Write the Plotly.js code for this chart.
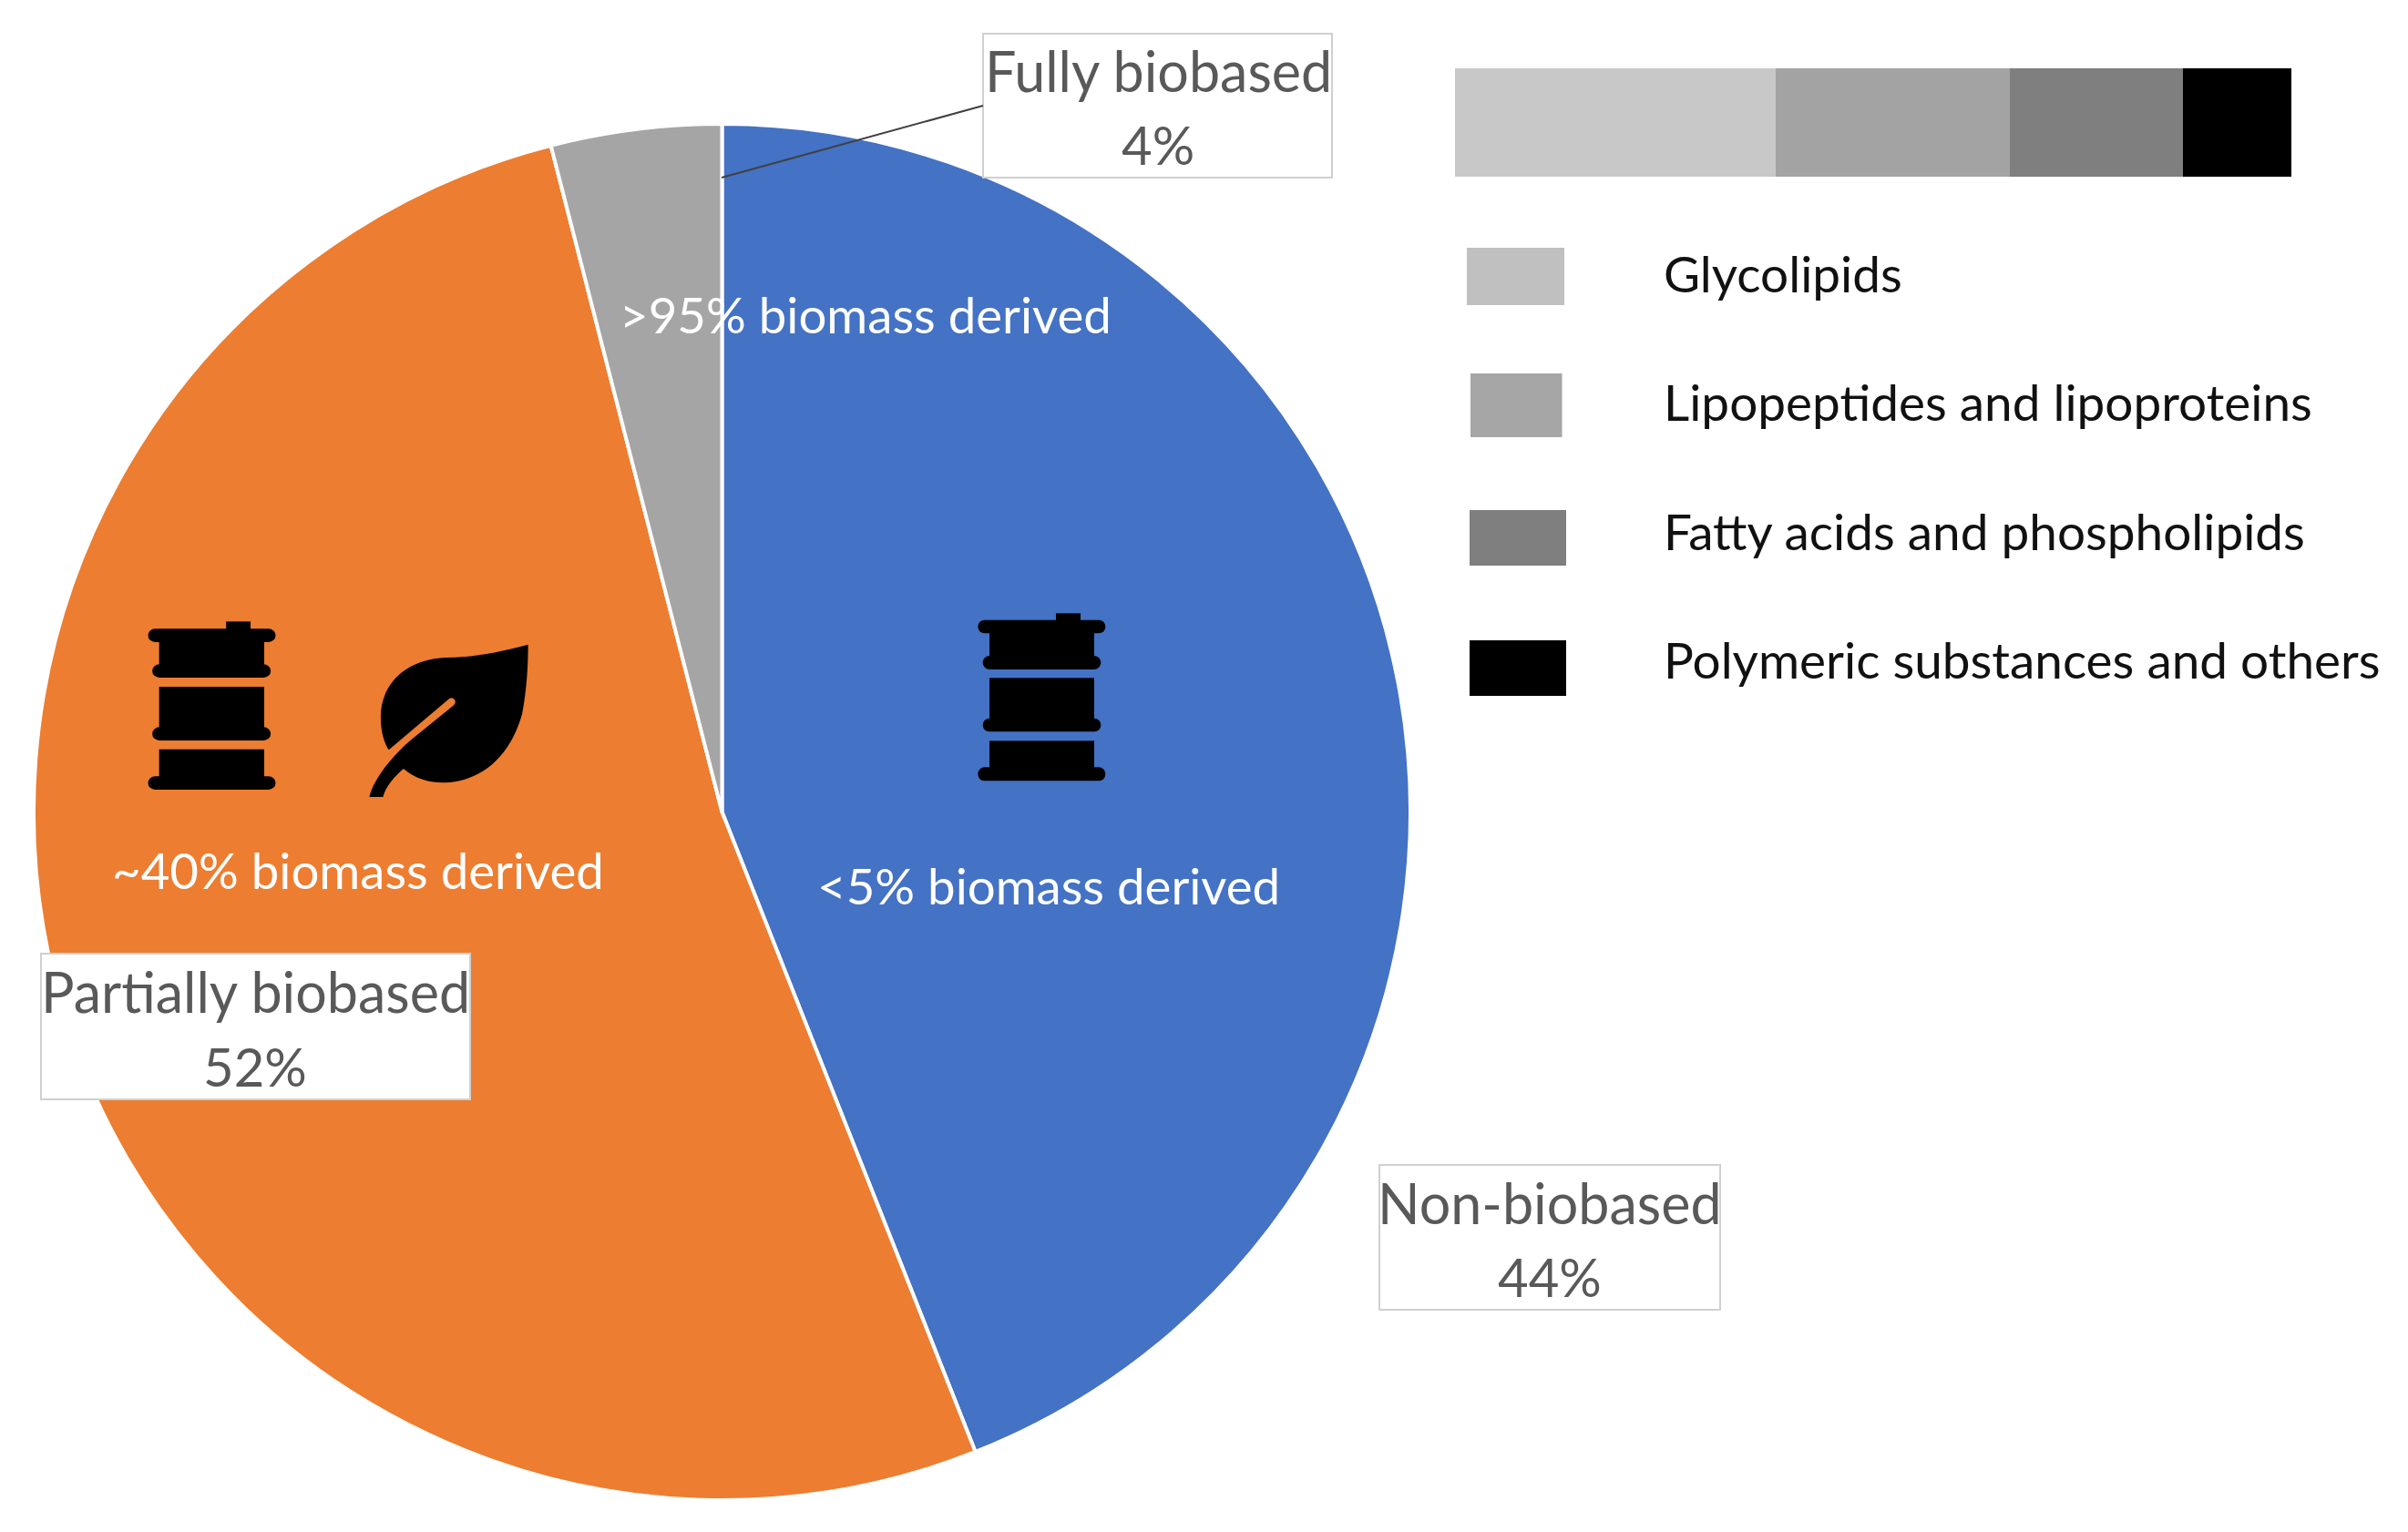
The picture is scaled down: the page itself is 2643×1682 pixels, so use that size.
<!DOCTYPE html>
<html><head><meta charset="utf-8">
<script src="https://cdn.plot.ly/plotly-3.0.1.min.js"></script>
<style>html,body{margin:0;padding:0;background:#fff}#c{width:2643px;height:1682px}</style>
</head><body><div id="c"></div>
<script>
// data
const pieLabels = ["Non-biobased", "Partially biobased", "Fully biobased"];
const pieValues = [44, 52, 4];
const pieColors = ["#4472C4", "#ED7D31", "#A5A5A5"];
const biomassNotes = ["<5% biomass derived", "~40% biomass derived", ">95% biomass derived"];
const legendLabels = ["Glycolipids", "Lipopeptides and lipoproteins", "Fatty acids and phospholipids", "Polymeric substances and others"];
const stackValues = [38.3, 28, 20.7, 13];
const stackColors = ["#C8C8C8", "#A3A3A3", "#7F7F7F", "#000000"];
const swatchColors = ["#C0C0C0", "#A6A6A6", "#7F7F7F", "#000000"];

const W = 2643, H = 1682;
const px = x => x / W, py = y => 1 - y / H;
const FONT = "Lato, 'Noto Sans', sans-serif";

const barrel = (b, t) => {
  const [capL, capR, bandL, bandR, bodyL, bodyR, bumpL, bumpR, y] = b;
  const rr = (x0, x1, y0, y1) => `<rect x="${x0}" y="${y0}" width="${x1-x0}" height="${y1-y0}" rx="${(y1-y0)/2}"/>`;
  const r = (x0, x1, y0, y1) => `<rect x="${x0}" y="${y0}" width="${x1-x0}" height="${y1-y0}"/>`;
  return r(bumpL,bumpR,y[0],y[1]+10) + rr(capL,capR,y[1],y[2]) + r(bodyL,bodyR,y[2]-5,y[3]+10) + rr(bandL,bandR,y[3],y[4]) +
    r(bodyL,bodyR,y[5],y[6]+10) + rr(bandL,bandR,y[6],y[7]) + r(bodyL,bodyR,y[8],y[9]+10) + rr(capL,capR,y[9],y[10]);
};
const svgUri = (vw, vh, inner) => "data:image/svg+xml;utf8," + encodeURIComponent(
  `<svg xmlns="http://www.w3.org/2000/svg" width="${vw}" height="${vh}" viewBox="0 0 ${vw} ${vh}" preserveAspectRatio="none"><g fill="#000">${inner}</g></svg>`);

const leaf = `<path d="M1343 263 C1250 290 1170 305 1090 306 C960 312 890 400 890 500 C890 550 900 585 915 610 L1100 442 Q1112 433 1119 448 Q1121 458 1112 465 L985 575 C930 625 870 700 855 765 L897 765 C905 730 935 695 960 672 C995 705 1040 718 1085 718 C1200 715 1290 630 1325 490 C1340 400 1343 330 1343 263 Z"/>`;
const iconOrange = svgUri(1568, 900, barrel([175,567,188,552,209,532,415,490,[187,211,255,328,372,402,535,579,608,697,741]]) + leaf);
const iconBlue = svgUri(780, 750, barrel([160,580,176,565,198,543,417,498,[100,122,166,240,285,313,446,490,520,607,652]]));

const img = (source, x, y, w, h) => ({source, xref:"paper", yref:"paper", x:px(x), y:py(y), sizex:w/W, sizey:h/H,
  xanchor:"left", yanchor:"top", sizing:"stretch", layer:"above"});

const rect = (x0, x1, y0, y1, fill, line) => ({type:"rect", xref:"paper", yref:"paper", x0:px(x0), x1:px(x1), y0:py(y0), y1:py(y1),
  fillcolor:fill, line: line ? {color:line, width:2} : {width:0}, layer:"above"});

const txt = (text, x, y, size, color, anchor) => ({text, xref:"paper", yref:"paper", x:px(x), y:py(y), xanchor:anchor||"center", yanchor:"middle",
  showarrow:false, font:{family:FONT, size, color}, borderpad:0});

const LBL = 61, PCT = 58, NOTE = 54.6, LEG = 54.9;
const shapes = [
  rect(1079,1462,37,195,"#FFFFFF","#D0D0D0"),
  rect(45,516,1047,1207,"#FFFFFF","#D0D0D0"),
  rect(1514,1888,1279,1438,"#FFFFFF","#D0D0D0"),
  {type:"line", xref:"paper", yref:"paper", x0:px(792), y0:py(195), x1:px(1079), y1:py(116), line:{color:"#404040", width:2}, layer:"above"},
  rect(1610,1717,272,335,swatchColors[0]),
  rect(1614,1714.5,410,480,swatchColors[1]),
  rect(1613,1719,560,621,swatchColors[2]),
  rect(1613,1719,703,764,swatchColors[3])
];
const annotations = [
  txt(pieLabels[2],1271,77,LBL,"#595959"), txt(pieValues[2]+"%",1271,158,PCT,"#595959"),
  txt(pieLabels[1],280,1088,LBL,"#595959"), txt(pieValues[1]+"%",280,1170,PCT,"#595959"),
  txt(pieLabels[0],1701,1320,LBL,"#595959"), txt(pieValues[0]+"%",1701,1401,PCT,"#595959"),
  txt(biomassNotes[2].replace(">","&gt;"),950,345,NOTE,"#FFFFFF"),
  txt(biomassNotes[1],393,955,NOTE,"#FFFFFF"),
  txt(biomassNotes[0].replace("<","&lt;"),1151,972,NOTE,"#FFFFFF"),
  txt(legendLabels[0],1825,300,LEG,"#111111","left"),
  txt(legendLabels[1],1825,441,LEG,"#111111","left"),
  txt(legendLabels[2],1825,583,LEG,"#111111","left"),
  txt(legendLabels[3],1825,724,LEG,"#111111","left")
];

const traces = [{
  type:"pie", labels:pieLabels, values:pieValues, sort:false, direction:"clockwise", rotation:0,
  marker:{colors:pieColors, line:{color:"#FFFFFF", width:4}}, textinfo:"none", hoverinfo:"label+percent",
  domain:{x:[px(37),px(1548)], y:[py(1647),py(136)]}, showlegend:false
}].concat(stackValues.map((v,i)=>({
  type:"bar", orientation:"h", y:["Composition"], x:[v], name:legendLabels[i], marker:{color:stackColors[i], line:{width:0}},
  showlegend:false, hoverinfo:"name+x"
})));

Plotly.newPlot("c", traces, {
  width:W, height:H, margin:{l:0,r:0,t:0,b:0,pad:0}, paper_bgcolor:"#FFFFFF", plot_bgcolor:"rgba(0,0,0,0)",
  barmode:"stack", bargap:0, showlegend:false,
  xaxis:{domain:[px(1597),px(2515)], range:[0,100], visible:false, fixedrange:true},
  yaxis:{domain:[py(194),py(74.5)], visible:false, type:"category", range:[-0.5,0.5], fixedrange:true},
  shapes, annotations,
  images:[img(iconOrange,100,620,560,300), img(iconBlue,1020,640,260,250)]
}, {displayModeBar:false, responsive:false});
</script></body></html>
